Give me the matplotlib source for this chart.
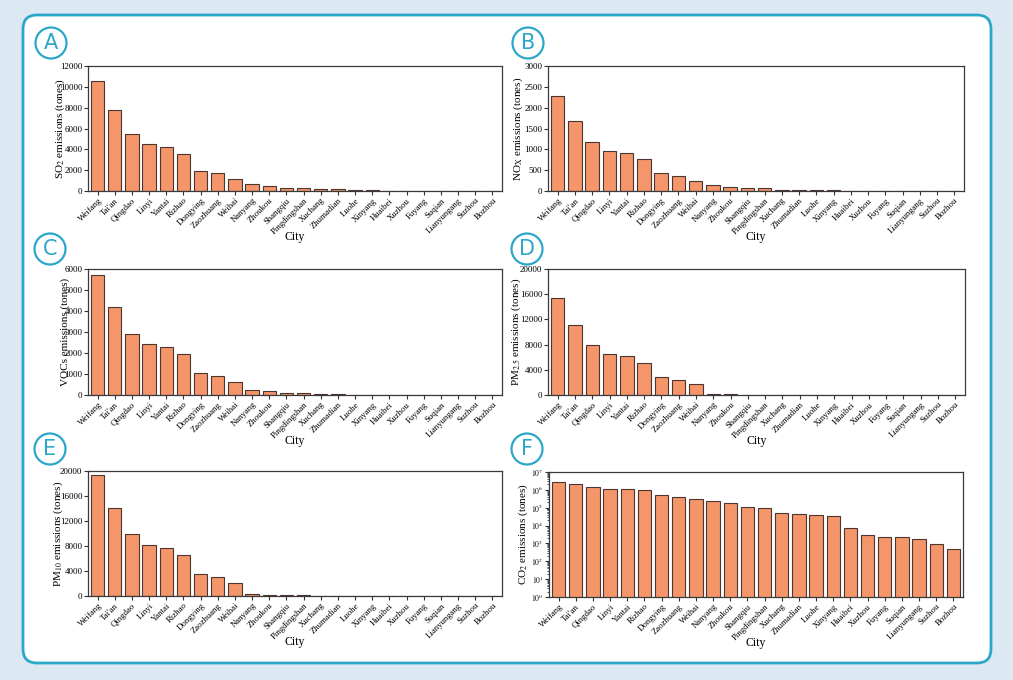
import matplotlib
matplotlib.use("Agg")
import matplotlib.pyplot as plt
import numpy as np
from matplotlib.patches import FancyBboxPatch, Circle
from matplotlib.transforms import IdentityTransform
from matplotlib.ticker import LogLocator, FuncFormatter, NullFormatter

plt.rcParams['font.family'] = ['Liberation Serif', 'DejaVu Serif']
plt.rcParams['mathtext.fontset'] = 'stix'

cities = ["Weifang", "Tai'an", "Qingdao", "Linyi", "Yantai", "Rizhao", "Dongying",
          "Zaozhuang", "Weihai", "Nanyang", "Zhoukou", "Shangqiu", "Pingdingshan",
          "Xuchang", "Zhumadian", "Luohe", "Xinyang", "Huaibei", "Xuzhou", "Fuyang",
          "Suqian", "Lianyungang", "Suzhou", "Bozhou"]

so2 = [10550, 7730, 5450, 4520, 4200, 3590, 1960, 1730, 1150, 670, 480, 320, 300,
       200, 150, 120, 120, 20, 10, 8, 8, 6, 5, 4]
nox = [2286, 1684, 1171, 970, 914, 770, 433, 369, 249, 144, 104, 72, 64,
       32, 30, 30, 30, 8, 3, 3, 3, 2, 2, 1]
vocs = [5700, 4170, 2890, 2430, 2270, 1940, 1050, 900, 600, 220, 170, 110, 80,
        30, 25, 20, 20, 5, 2, 2, 2, 2, 1, 1]
pm25 = [15340, 11160, 7880, 6510, 6140, 5130, 2860, 2430, 1690, 160, 100, 60, 50,
        10, 10, 10, 10, 5, 3, 3, 3, 2, 2, 1]
pm10 = [19360, 14130, 9870, 8160, 7680, 6510, 3520, 3040, 2080, 270, 200, 110, 90,
        40, 30, 25, 25, 8, 5, 4, 4, 3, 3, 2]
co2 = [2.7e6, 2.1e6, 1.4e6, 1.15e6, 1.1e6, 9.3e5, 4.9e5, 4.1e5, 2.9e5, 2.3e5, 1.8e5,
       1.15e5, 1.0e5, 5.0e4, 4.4e4, 3.7e4, 3.6e4, 7.6e3, 2.8e3, 2.2e3, 2.3e3, 1.8e3,
       980, 465]

ylabels = [r'SO$_2$ emissions (tones)', r'NO$_\mathrm{X}$ emissions (tones)',
           r'VOCs emissions (tones)', r'PM$_{2.5}$ emissions (tones)',
           r'PM$_{10}$ emissions (tones)', r'CO$_2$ emissions (tones)']
yticks = [np.arange(0, 12001, 2000), np.arange(0, 3001, 500), np.arange(0, 6001, 1000),
          np.arange(0, 20001, 4000), np.arange(0, 20001, 4000), None]
letters = ['A', 'B', 'C', 'D', 'E', 'F']
series = [so2, nox, vocs, pm25, pm10, co2]

W, H = 1013, 680
fig = plt.figure(figsize=(W / 100, H / 100), dpi=100)
fig.patch.set_facecolor('#dde9f2')

teal = '#2ba7ca'
box = FancyBboxPatch((23, H - 663), 968, 648, boxstyle='round,pad=0,rounding_size=14',
                     transform=IdentityTransform(), facecolor='white', edgecolor=teal,
                     linewidth=2, zorder=-10)
fig.patches.append(box)

# axes boxes in pixels: left, right, top, bottom
boxes = [(88, 502, 66, 191), (548, 964, 66, 191),
         (88, 502, 269, 395), (548, 965, 269, 395),
         (88, 502, 471, 596), (549, 963, 472, 597)]
ylab_x = [-0.051, -0.055, -0.043, -0.06, -0.055, -0.046]
circles = [(51, 43), (528, 43), (50, 249), (527, 249), (50, 449), (527, 449)]

x = np.arange(len(cities))
for i in range(6):
    l, r, t, b = boxes[i]
    ax = fig.add_axes([l / W, (H - b) / H, (r - l) / W, (b - t) / H])
    ax.patch.set_alpha(0)
    ax.bar(x, series[i], width=0.78, color='#f5956a', edgecolor='#4e3630',
           linewidth=0.8, zorder=2)
    ax.set_xlim(-0.56, 23.56)
    ax.set_xticks(x)
    ax.set_xticklabels(cities, rotation=45, ha='right', rotation_mode='anchor',
                       fontsize=6.3)
    if yticks[i] is not None:
        ax.set_ylim(0, yticks[i][-1])
        ax.set_yticks(yticks[i])
        ax.set_yticklabels([str(v) for v in yticks[i]], fontsize=6.5)
    else:
        ax.set_yscale('log')
        ax.set_ylim(1, 1e7)
        ax.yaxis.set_major_locator(LogLocator(base=10, numticks=10))
        ax.yaxis.set_minor_locator(LogLocator(base=10, subs=np.arange(2, 10), numticks=100))
        ax.yaxis.set_major_formatter(FuncFormatter(lambda v, p: r'$10^{%d}$' % round(np.log10(v))))
        ax.yaxis.set_minor_formatter(NullFormatter())
        ax.tick_params(axis='y', labelsize=5.5)
        ax.tick_params(axis='y', which='minor', length=1.5, width=0.6, color='#333333')
    ax.tick_params(axis='both', which='major', length=3, width=0.8, pad=1,
                   color='#333333', direction='out')
    ax.tick_params(axis='x', pad=1)
    for s in ax.spines.values():
        s.set_linewidth(0.9)
        s.set_color('#3a3a3a')
    ax.set_ylabel(ylabels[i], fontsize=8)
    ax.yaxis.set_label_coords(ylab_x[i], 0.5)
    ax.set_xlabel('City', fontsize=8.5)
    ax.xaxis.set_label_coords(0.5, -0.32)

    cx, cy = circles[i]
    c = Circle((cx, H - cy), 15.5, transform=IdentityTransform(), facecolor='none',
               edgecolor=teal, linewidth=1.6)
    fig.patches.append(c)
    fig.text(cx / W, (H - cy) / H, letters[i], ha='center', va='center',
             fontsize=15, color=teal, family=['DejaVu Sans'])

fig.savefig('out.png', dpi=100, facecolor=fig.get_facecolor())
